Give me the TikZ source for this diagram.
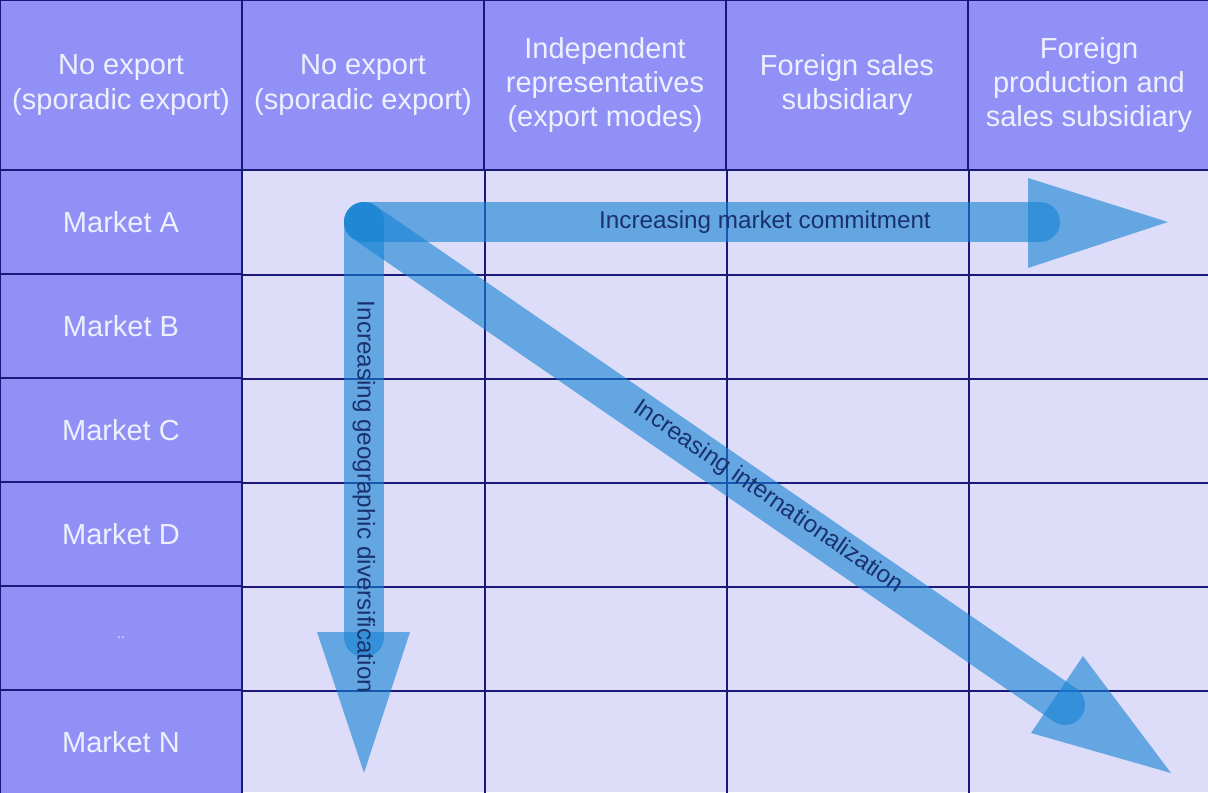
\documentclass[tikz,border=0pt]{standalone}
\usepackage{fontspec}
\setmainfont{Liberation Sans}
\usetikzlibrary{positioning}
\definecolor{headblue}{RGB}{144,144,246}
\definecolor{cellblue}{RGB}{221,221,250}
\definecolor{gridblue}{RGB}{25,25,120}
\definecolor{arrowblue}{RGB}{20,130,210}
\definecolor{labelblue}{RGB}{25,50,110}
\definecolor{headtext}{RGB}{238,240,255}

\begin{document}
\begin{tikzpicture}[node distance=4.84cm,
	head/.style={draw=gridblue, line width=1.1pt, fill=headblue, text=headtext,
		minimum width=4.84cm, minimum height=3.4cm, inner sep=0pt, align=center,
		font=\fontsize{16.5}{19.5}\selectfont},
	market/.style={head, minimum height=2.08cm},
	gridline/.style={draw=gridblue, line width=1.1pt},
	shaft/.style={draw=arrowblue, line width=0.8cm, line cap=round, opacity=0.6},
	tip/.style={fill=arrowblue, opacity=0.6},
	lbl/.style={text=labelblue, inner sep=0pt, font=\fontsize{13.8}{16}\selectfont}]
	\useasboundingbox (0,0) rectangle (24.16,-15.84);
	\fill[cellblue] (4.84,-3.4) rectangle (24.16,-15.84);
	% header row
	\node[head] (h1) at (2.42,-1.7) {No export\\(sporadic export)};
	\node[head] (h2) [right of=h1] {No export\\(sporadic export)};
	\node[head] (h3) [right of=h2] {Independent\\representatives\\(export modes)};
	\node[head] (h4) [right of=h3] {Foreign sales\\subsidiary};
	\node[head] (h5) [right of=h4] {Foreign\\production and\\sales subsidiary};
	% markets
	\node[market] (mA) at (2.42,-4.44) {Market A};
	\node[market] (mB) [node distance=2.08cm, below of=mA] {Market B};
	\node[market] (mC) [node distance=2.08cm, below of=mB] {Market C};
	\node[market] (mD) [node distance=2.08cm, below of=mC] {Market D};
	\node[market] (mE) [node distance=2.08cm, below of=mD] {\fontsize{8}{8}\selectfont ..};
	\node[market] (mN) [node distance=2.08cm, below of=mE] {Market N};
	% body lines
	\foreach \c in {h2,h3,h4,h5}
		\draw[gridline] (\c.south east) -- (\c.south east |- mN.south);
	\foreach \m in {mA,mB,mC,mD,mE,mN}
		\draw[gridline] (\m.south east) -- (\m.south east -| h5.east);
	% arrows
	\coordinate (start) at (7.28,-4.44);
	\coordinate (hend) at (20.8,-4.44);
	\coordinate (vend) at (7.28,-12.74);
	\coordinate (dend) at (21.3,-14.1);
	\draw[shaft] (start) -- (hend);
	\fill[tip] (20.56,-3.56) -- (20.56,-5.36) -- (23.36,-4.44) -- cycle;
	\draw[shaft] (start) -- (vend);
	\fill[tip] (6.34,-12.64) -- (8.2,-12.64) -- (7.28,-15.46) -- cycle;
	\draw[shaft] (start) -- (dend);
	\fill[tip] (21.66,-13.12) -- (20.62,-14.66) -- (23.42,-15.46) -- cycle;
	\node[lbl] (commit) at (15.3,-4.44) {Increasing market commitment};
	\node[lbl, rotate=-90] (geo) at (7.28,-9.94) {Increasing geographic diversification};
	\node[lbl, rotate=-34.6] (intl) at (15.36,-9.94) {Increasing internationalization};
\end{tikzpicture}
\end{document}
